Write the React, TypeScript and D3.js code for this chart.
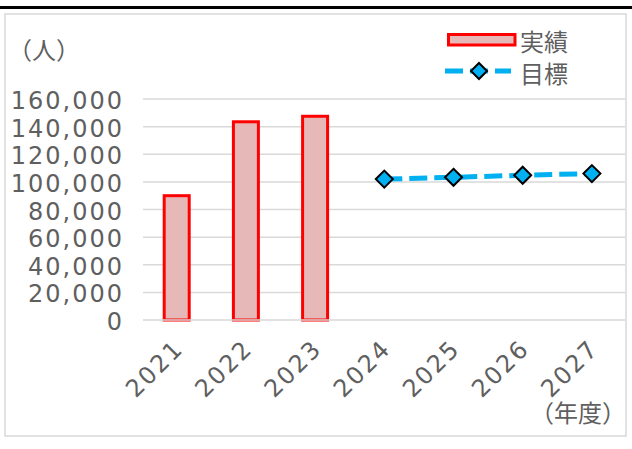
import React from "react";
import * as d3 from "d3";

const years = ["2021", "2022", "2023", "2024", "2025", "2026", "2027"];
const actualYears = ["2021", "2022", "2023"];
const actualValues = [90000, 143500, 147500];
const targetYears = ["2024", "2025", "2026", "2027"];
const targetValues = [102000, 103300, 104800, 106000];
const yTicks = [0, 20000, 40000, 60000, 80000, 100000, 120000, 140000, 160000];
const unitLabel = "（人）";
const xUnitLabel = "（年度）";
const legendActual = "実績";
const legendTarget = "目標";

const W = 632;
const H = 449;
const TEXT = "#5f5f5f";
const NUM_FONT = "'DejaVu Sans', sans-serif";
const CJK_FONT = "'Noto Sans CJK JP', sans-serif";

export default function App() {
  const x = d3.scaleBand<string>().domain(years).range([142.1, 626.5]).padding(0);
  const y = d3.scaleLinear().domain([0, 160000]).range([320, 99]);
  const barW = 25;
  const cx = (k: string) => (x(k) as number) + x.bandwidth() / 2;

  const line = d3
    .line<number>()
    .x((_, i) => cx(targetYears[i]))
    .y((v) => y(v));

  const diamond = (px: number, py: number, r: number) =>
    `M${px},${py - r}L${px + r},${py}L${px},${py + r}L${px - r},${py}Z`;

  const fmt = d3.format(",");

  return (
    <svg
      width={W}
      height={H}
      style={{ position: "absolute", left: 0, top: 0, background: "#fff" }}
    >
      <rect x={0} y={6} width={W} height={3} fill="#000" />
      <rect x={5} y={14} width={621} height={422} fill="#fff" stroke="#D9D9D9" strokeWidth={1.5} />

      {/* gridlines */}
      {yTicks.slice(1).map((t) => (
        <line key={t} x1={143} x2={625} y1={y(t)} y2={y(t)} stroke="#D9D9D9" strokeWidth={1.5} />
      ))}

      {/* y tick labels */}
      {yTicks.map((t) => (
        <text
          key={t}
          x={124}
          y={y(t) + 2}
          textAnchor="end"
          dominantBaseline="central"
          fontFamily={NUM_FONT}
          fontSize={24}
          letterSpacing={2}
          fill={TEXT}
        >
          {fmt(t)}
        </text>
      ))}

      {/* bars */}
      {actualYears.map((k, i) => (
        <rect
          key={k}
          x={cx(k) - barW / 2}
          y={y(actualValues[i])}
          width={barW}
          height={y(0) - y(actualValues[i])}
          fill="#E6B9B8"
          stroke="#FF0000"
          strokeWidth={3}
        />
      ))}

      {/* axis line */}
      <line x1={143} x2={625} y1={y(0)} y2={y(0)} stroke="#D9D9D9" strokeWidth={1.5} />

      {/* target line */}
      <path
        d={line(targetValues) || ""}
        fill="none"
        stroke="#00B0F0"
        strokeWidth={5}
        strokeDasharray="18,7"
      />
      {targetValues.map((v, i) => (
        <path
          key={i}
          d={diamond(cx(targetYears[i]), y(v), 8.5)}
          fill="#00B0F0"
          stroke="#000"
          strokeWidth={2}
        />
      ))}

      {/* x labels */}
      {years.map((k) => (
        <text
          key={k}
          transform={`translate(${cx(k) + 8},${350}) rotate(-45)`}
          textAnchor="end"
          fontFamily={NUM_FONT}
          fontSize={24}
          letterSpacing={2}
          fill={TEXT}
        >
          {k}
        </text>
      ))}

      {/* unit labels */}
      <text x={8} y={48} dominantBaseline="central" fontFamily={CJK_FONT} fontSize={24} fill={TEXT}>
        {unitLabel}
      </text>
      <text x={626} y={411} textAnchor="end" dominantBaseline="central" fontFamily={CJK_FONT} fontSize={24} fill={TEXT}>
        {xUnitLabel}
      </text>

      {/* legend */}
      <rect x={448.5} y={34.5} width={66.5} height={10.5} fill="#E6B9B8" stroke="#FF0000" strokeWidth={3} />
      <text x={520} y={40} dominantBaseline="central" fontFamily={CJK_FONT} fontSize={24} fill={TEXT}>
        {legendActual}
      </text>
      <line x1={445} x2={511} y1={71} y2={71} stroke="#00B0F0" strokeWidth={5} strokeDasharray="18,7" />
      <path d={diamond(479, 71, 8)} fill="#00B0F0" stroke="#000" strokeWidth={2} />
      <text x={520} y={72} dominantBaseline="central" fontFamily={CJK_FONT} fontSize={24} fill={TEXT}>
        {legendTarget}
      </text>
    </svg>
  );
}
